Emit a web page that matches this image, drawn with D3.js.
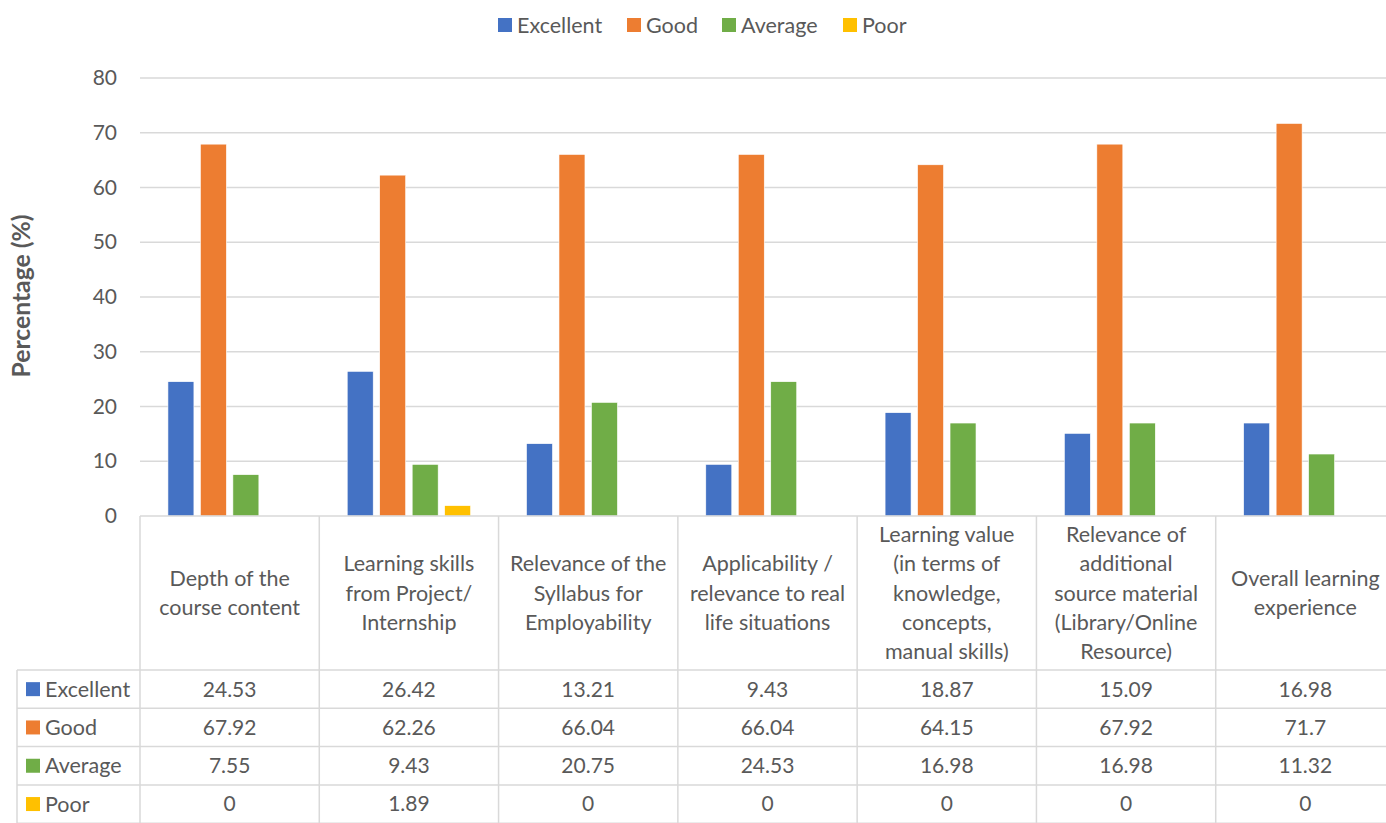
<!DOCTYPE html>
<html>
<head>
<meta charset="utf-8">
<script src="https://cdn.jsdelivr.net/npm/d3@7"></script>
<style>
  html, body { margin: 0; padding: 0; background: #fff; overflow: hidden; }
  svg { display: block; }
  text { font-family: Lato, "Open Sans", sans-serif; fill: #595959; }
</style>
</head>
<body>
<svg id="chart" width="1386" height="823"></svg>
<script>
// ---- data ----
const categories = [
  "Depth of the\ncourse content",
  "Learning skills\nfrom Project/\nInternship",
  "Relevance of the\nSyllabus for\nEmployability",
  "Applicability /\nrelevance to real\nlife situations",
  "Learning value\n(in terms of\nknowledge,\nconcepts,\nmanual skills)",
  "Relevance of\nadditional\nsource material\n(Library/Online\nResource)",
  "Overall learning\nexperience"
];
const seriesNames = ["Excellent", "Good", "Average", "Poor"];
const excellent = [24.53, 26.42, 13.21, 9.43, 18.87, 15.09, 16.98];
const good      = [67.92, 62.26, 66.04, 66.04, 64.15, 67.92, 71.7];
const average   = [7.55, 9.43, 20.75, 24.53, 16.98, 16.98, 11.32];
const poor      = [0, 1.89, 0, 0, 0, 0, 0];
const yTicks = [0, 10, 20, 30, 40, 50, 60, 70, 80];
const yTitle = "Percentage (%)";

const seriesValues = [excellent, good, average, poor];
const colors = ["#4472C4", "#ED7D31", "#70AD47", "#FFC000"];

// ---- layout ----
const svg = d3.select("#chart");
const plotLeft = 140, plotRight = 1395;
const plotTop = 78, plotBottom = 516;
const headerBottom = 670;
const rowH = 38.3;
const legendColLeft = 17;
const gridColor = "#d9d9d9";
const fsText = 21.5;
const fsNum = 21;

const x0 = d3.scaleBand().domain(d3.range(categories.length)).range([plotLeft, plotRight]).paddingInner(0).paddingOuter(0);
const x1 = d3.scaleBand().domain(d3.range(seriesNames.length)).range([0, x0.bandwidth()]).paddingInner(0.2).paddingOuter(0.86);
const y = d3.scaleLinear().domain([0, 80]).range([plotBottom, plotTop]);

// gridlines
svg.append("g").selectAll("line").data(yTicks.filter(d => d > 0)).join("line")
  .attr("x1", plotLeft).attr("x2", plotRight)
  .attr("y1", d => y(d)).attr("y2", d => y(d))
  .attr("stroke", gridColor).attr("stroke-width", 1.3);

// y tick labels via axis
const yAxis = svg.append("g").attr("transform", `translate(${plotLeft},0)`)
  .call(d3.axisLeft(y).tickValues(yTicks).tickSize(0).tickPadding(23));
yAxis.select(".domain").remove();
yAxis.selectAll("text").attr("font-size", fsNum).attr("font-family", "Lato").attr("fill", "#595959");

// y title
svg.append("text")
  .attr("transform", `translate(30,${(plotTop + plotBottom) / 2 - 1}) rotate(-90)`)
  .attr("text-anchor", "middle")
  .attr("font-size", 24).attr("font-weight", "bold")
  .attr("textLength", 163).attr("lengthAdjust", "spacingAndGlyphs")
  .text(yTitle);

// bars
const groups = svg.append("g").selectAll("g").data(categories).join("g")
  .attr("transform", (d, i) => `translate(${x0(i)},0)`);
groups.selectAll("rect").data((d, i) => seriesValues.map((s, k) => ({ k, v: s[i] })))
  .join("rect")
  .attr("x", d => x1(d.k))
  .attr("width", x1.bandwidth())
  .attr("y", d => y(d.v))
  .attr("height", d => y(0) - y(d.v))
  .attr("fill", d => colors[d.k])
  .attr("stroke", "#fff").attr("stroke-width", 0.6);

// table lines
const tbl = svg.append("g").attr("stroke", gridColor).attr("stroke-width", 1.5);
tbl.append("line").attr("x1", plotLeft).attr("x2", plotRight).attr("y1", plotBottom).attr("y2", plotBottom);
const rowLines = d3.range(seriesNames.length + 1).map(r => headerBottom + r * rowH);
tbl.selectAll("line.h").data(rowLines).join("line").attr("class", "h")
  .attr("x1", legendColLeft).attr("x2", plotRight)
  .attr("y1", d => d).attr("y2", d => d);
const vx = d3.range(categories.length + 1).map(i => i < categories.length ? x0(i) : plotRight);
tbl.selectAll("line.v").data(vx).join("line").attr("class", "v")
  .attr("x1", d => d).attr("x2", d => d)
  .attr("y1", plotBottom).attr("y2", rowLines[rowLines.length - 1]);
tbl.append("line").attr("x1", legendColLeft).attr("x2", legendColLeft)
  .attr("y1", headerBottom).attr("y2", rowLines[rowLines.length - 1]);

// header labels
const lineH = 29.4;
categories.forEach((c, i) => {
  const lines = c.split("\n");
  const cx = x0(i) + x0.bandwidth() / 2;
  const cy = (plotBottom + headerBottom) / 2;
  const t = svg.append("text").attr("text-anchor", "middle").attr("font-size", fsText);
  lines.forEach((ln, j) => {
    t.append("tspan").attr("x", cx)
      .attr("y", cy + (j - (lines.length - 1) / 2) * lineH)
      .attr("dy", "0.35em").text(ln);
  });
});

// table rows
seriesNames.forEach((name, k) => {
  const cy = headerBottom + k * rowH + rowH / 2;
  svg.append("rect").attr("x", 26).attr("y", cy - 7).attr("width", 14).attr("height", 14).attr("fill", colors[k]);
  svg.append("text").attr("x", 45).attr("y", cy).attr("dy", "0.35em").attr("font-size", fsText).text(name);
  seriesValues[k].forEach((v, i) => {
    svg.append("text").attr("x", x0(i) + x0.bandwidth() / 2).attr("y", cy).attr("dy", "0.35em")
      .attr("text-anchor", "middle").attr("font-size", fsNum).text(String(v));
  });
});

// legend at top
const legendItems = [{ x: 498 }, { x: 627 }, { x: 722 }, { x: 843 }];
seriesNames.forEach((name, k) => {
  const g = svg.append("g").attr("transform", `translate(${legendItems[k].x},25)`);
  g.append("rect").attr("x", 0).attr("y", -7).attr("width", 14).attr("height", 14).attr("fill", colors[k]);
  g.append("text").attr("x", 19).attr("y", 0).attr("dy", "0.35em").attr("font-size", fsText).text(name);
});
</script>
</body>
</html>
